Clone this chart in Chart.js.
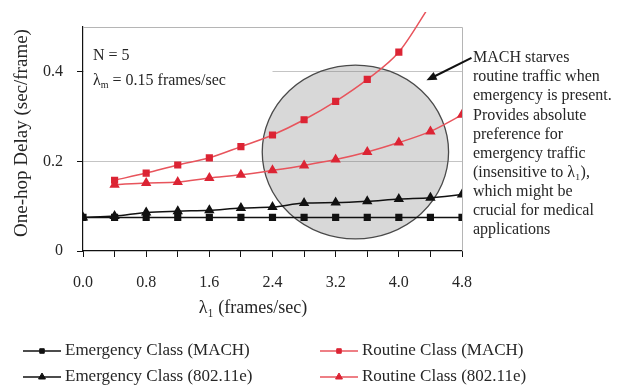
<!DOCTYPE html>
<html>
<head>
<meta charset="utf-8">
<script src="https://cdn.jsdelivr.net/npm/chart.js@4.4.1/dist/chart.umd.min.js"></script>
<style>
  html, body { margin: 0; padding: 0; background: #fff; }
  #wrap { width: 621px; height: 385px; }
</style>
</head>
<body>
<div id="wrap"><canvas id="delayChart" width="621" height="385"></canvas></div>
<script>
// x values: routine arrival rate (frames/sec)
const lambdaValues = [0, 0.4, 0.8, 1.2, 1.6, 2.0, 2.4, 2.8, 3.2, 3.6, 4.0, 4.4, 4.8];

// one-hop delay (sec/frame)
const emergencyMach   = [0.075, 0.075, 0.075, 0.075, 0.075, 0.075, 0.075, 0.075, 0.075, 0.075, 0.075, 0.075, 0.075];
const emergency80211e = [0.075, 0.078, 0.086, 0.089, 0.091, 0.096, 0.098, 0.107, 0.108, 0.111, 0.116, 0.119, 0.126];
const routineMach     = [null, 0.158, 0.174, 0.192, 0.208, 0.233, 0.259, 0.293, 0.334, 0.383, 0.444, 0.55, null];
const routine80211e   = [null, 0.148, 0.152, 0.154, 0.163, 0.170, 0.180, 0.191, 0.204, 0.221, 0.242, 0.267, 0.304];

const yTickValues = [0, 0.2, 0.4];

const seriesLabels = [
  'Emergency Class (MACH)',
  'Routine Class (MACH)',
  'Emergency Class (802.11e)',
  'Routine Class (802.11e)'
];

const noteLines = [
  'MACH starves',
  'routine traffic when',
  'emergency is present.',
  'Provides absolute',
  'preference for',
  'emergency traffic',
  '(insensitive to \u03bb\u2081),',
  'which might be',
  'crucial for medical',
  'applications'
];

const FONT = '"Liberation Serif", "DejaVu Serif", serif';
const TEXT = '#262626';
const RED_LINE = '#e8545c';
const RED_MARK = '#dc2434';

function toPoints(arr) {
  return lambdaValues.map((x, i) => ({ x: x, y: arr[i] }));
}

/**
 * 画标注、椭圆、图例、坐标轴标题
 */
const decorPlugin = {
  id: 'decor',
  beforeDatasetsDraw(chart) {
    const { ctx, chartArea: ca, scales: { x, y } } = chart;
    ctx.save();
    // frame (top / right)
    ctx.strokeStyle = '#b5b5b5';
    ctx.lineWidth = 1;
    ctx.beginPath();
    ctx.moveTo(ca.left, ca.top + 0.5);
    ctx.lineTo(ca.right + 0.5, ca.top + 0.5);
    ctx.lineTo(ca.right + 0.5, ca.bottom);
    ctx.stroke();

    // white box behind the N / lambda label
    ctx.fillStyle = '#fff';
    const bx = ca.left + 1;
    const by = y.getPixelForValue(0.435);
    ctx.fillRect(bx, by, x.getPixelForValue(2.4) - bx, y.getPixelForValue(0.37) - by);

    // ellipse
    const cx = x.getPixelForValue(3.45);
    const cy = y.getPixelForValue(0.221);
    const rx = x.getPixelForValue(3.45 + 1.18) - cx;
    const ry = cy - y.getPixelForValue(0.221 + 0.194);
    ctx.beginPath();
    ctx.ellipse(cx, cy, rx, ry, 0, 0, Math.PI * 2);
    ctx.fillStyle = 'rgba(110,110,110,0.27)';
    ctx.fill();
    ctx.strokeStyle = '#4a4a4a';
    ctx.lineWidth = 1.3;
    ctx.stroke();
    ctx.restore();
  },
  afterDraw(chart) {
    const { ctx, chartArea: ca, scales: { x, y } } = chart;
    ctx.save();
    ctx.fillStyle = TEXT;
    ctx.textBaseline = 'middle';

    // y axis title
    ctx.save();
    ctx.translate(22, 133);
    ctx.rotate(-Math.PI / 2);
    ctx.textAlign = 'center';
    ctx.font = '19px ' + FONT;
    ctx.fillText('One-hop Delay (sec/frame)', 0, 0);
    ctx.restore();

    // x axis title
    ctx.textAlign = 'center';
    ctx.font = '18px ' + FONT;
    ctx.fillText('\u03bb\u2081 (frames/sec)', 253, 308);

    // N / lambda label
    ctx.textAlign = 'left';
    ctx.font = '16px ' + FONT;
    ctx.fillText('N = 5', ca.left + 10, 56);
    ctx.fillText('\u03bb', ca.left + 10, 81);
    const lw = ctx.measureText('\u03bb').width;
    ctx.font = '10px ' + FONT;
    ctx.fillText('m', ca.left + 10 + lw, 85);
    const mw = ctx.measureText('m').width;
    ctx.font = '16px ' + FONT;
    ctx.fillText(' = 0.15 frames/sec', ca.left + 10 + lw + mw, 81);

    // note on the right
    noteLines.forEach((t, i) => ctx.fillText(t, ca.right + 11, 58 + i * 19.1));

    // arrow
    const x0 = x.getPixelForValue(4.92), y0 = y.getPixelForValue(0.431);
    const x1 = x.getPixelForValue(4.35), y1 = y.getPixelForValue(0.381);
    const ang = Math.atan2(y1 - y0, x1 - x0);
    ctx.strokeStyle = '#111';
    ctx.fillStyle = '#111';
    ctx.lineWidth = 2;
    ctx.beginPath();
    ctx.moveTo(x0, y0);
    ctx.lineTo(x1 - 8 * Math.cos(ang), y1 - 8 * Math.sin(ang));
    ctx.stroke();
    ctx.beginPath();
    ctx.moveTo(x1, y1);
    ctx.lineTo(x1 - 11 * Math.cos(ang - 0.4), y1 - 11 * Math.sin(ang - 0.4));
    ctx.lineTo(x1 - 11 * Math.cos(ang + 0.4), y1 - 11 * Math.sin(ang + 0.4));
    ctx.closePath();
    ctx.fill();

    // legend (2 x 2)
    const slots = [[23, 351], [320, 351], [23, 377], [320, 377]];
    chart.data.datasets.forEach((ds, k) => {
      const [lx, ly] = slots[k];
      ctx.strokeStyle = ds.borderColor;
      ctx.lineWidth = 1.5;
      ctx.beginPath();
      ctx.moveTo(lx, ly);
      ctx.lineTo(lx + 38, ly);
      ctx.stroke();
      ctx.fillStyle = ds.backgroundColor;
      ctx.strokeStyle = ds.pointBorderColor || ds.borderColor;
      ctx.lineWidth = 1;
      Chart.helpers.drawPoint(ctx, {
        pointStyle: ds.pointStyle,
        radius: ds.pointStyle === 'triangle' ? 4 : 3.2,
        rotation: 0,
        borderWidth: 1
      }, lx + 19, ly);
      ctx.fillStyle = TEXT;
      ctx.font = '17px ' + FONT;
      ctx.textAlign = 'left';
      ctx.fillText(ds.label, lx + 42, ly);
    });
    ctx.restore();
  }
};

const ctx = document.getElementById('delayChart');

const chart = new Chart(ctx, {
  type: 'line',
  data: {
    datasets: [
      {
        label: seriesLabels[0],
        data: toPoints(emergencyMach),
        borderColor: '#111',
        backgroundColor: '#111',
        pointStyle: 'rect',
        pointRadius: 4,
        borderWidth: 1.5
      },
      {
        label: seriesLabels[1],
        data: toPoints(routineMach),
        borderColor: RED_LINE,
        backgroundColor: RED_MARK,
        pointBorderColor: RED_MARK,
        pointStyle: 'rect',
        pointRadius: 4,
        borderWidth: 1.5,
        clip: { left: 5, top: 15, right: 5, bottom: 5 }
      },
      {
        label: seriesLabels[2],
        data: toPoints(emergency80211e),
        borderColor: '#111',
        backgroundColor: '#111',
        pointStyle: 'triangle',
        pointRadius: 4.5,
        borderWidth: 1.5
      },
      {
        label: seriesLabels[3],
        data: toPoints(routine80211e),
        borderColor: RED_LINE,
        backgroundColor: RED_MARK,
        pointBorderColor: RED_MARK,
        pointStyle: 'triangle',
        pointRadius: 4.5,
        borderWidth: 1.5
      }
    ]
  },
  options: {
    responsive: false,
    animation: false,
    events: [],
    spanGaps: true,
    layout: { padding: { left: 0, top: 27, right: 159, bottom: 0 } },
    elements: {
      line: { cubicInterpolationMode: 'monotone' },
      point: { borderWidth: 1 }
    },
    plugins: {
      legend: { display: false },
      tooltip: { enabled: false }
    },
    scales: {
      x: {
        type: 'linear',
        min: 0,
        max: 4.8,
        afterFit: s => { s.height = 134; },
        grid: { drawOnChartArea: false, tickColor: '#111', tickLength: 6 },
        border: { color: '#111', width: 1.2 },
        ticks: {
          stepSize: 0.4,
          autoSkip: false,
          maxRotation: 0,
          padding: 16,
          color: TEXT,
          font: { family: FONT, size: 16 },
          callback: v => (Math.round(v * 10) % 8 === 0 ? v.toFixed(1) : '')
        }
      },
      y: {
        type: 'linear',
        min: 0,
        max: 0.5,
        afterFit: s => { s.width = 83; },
        afterBuildTicks: s => { s.ticks = yTickValues.map(v => ({ value: v })); },
        grid: {
          color: c => (c.tick && c.tick.value === 0 ? 'rgba(0,0,0,0)' : '#c4c4c4'),
          tickColor: '#111',
          tickLength: 6
        },
        border: { color: '#111', width: 1.2 },
        ticks: {
          padding: 14,
          color: TEXT,
          font: { family: FONT, size: 16 },
          callback: v => (v === 0 ? '0' : v.toFixed(1))
        }
      }
    }
  },
  plugins: [decorPlugin]
});
</script>
</body>
</html>
